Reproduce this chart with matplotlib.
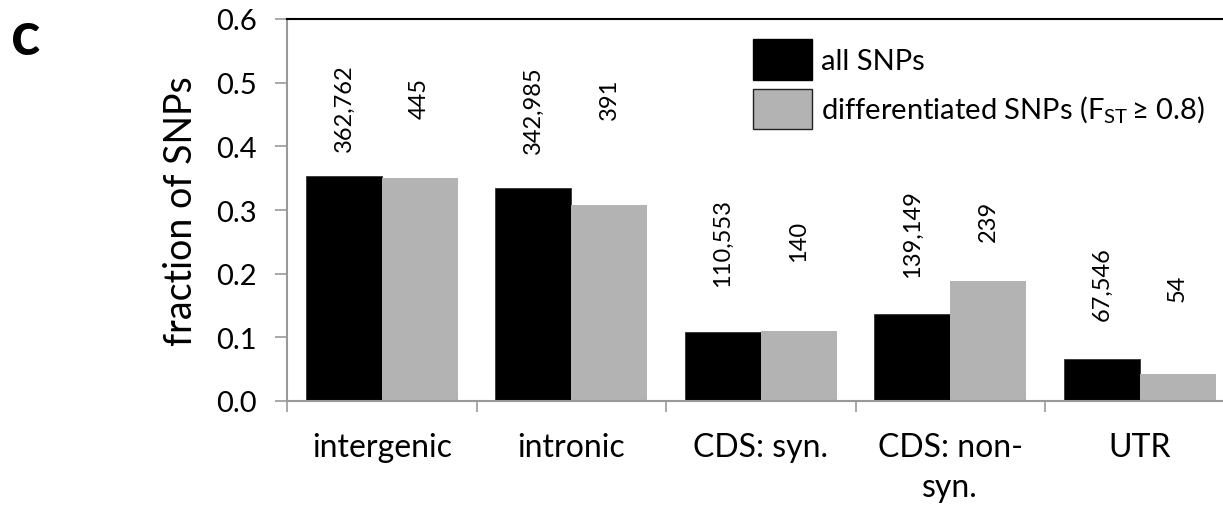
import matplotlib
matplotlib.use("Agg")
import matplotlib.pyplot as plt
from matplotlib.patches import Rectangle
import numpy as np

categories = ["intergenic", "intronic", "CDS: syn.", "CDS: non-\nsyn.", "UTR"]
all_snps = [0.354, 0.334, 0.108, 0.136, 0.066]
diff_snps = [0.350, 0.308, 0.110, 0.188, 0.042]
all_counts = ["362,762", "342,985", "110,553", "139,149", "67,546"]
diff_counts = ["445", "391", "140", "239", "54"]
yticks = [0.0, 0.1, 0.2, 0.3, 0.4, 0.5, 0.6]
series_names = ["all SNPs", "differentiated SNPs (F$_{\\mathregular{ST}}$\u2009≥ 0.8)"]

# label centre heights (layout)
all_label_y = [0.462, 0.458, 0.250, 0.264, 0.185]
diff_label_y = [0.476, 0.475, 0.252, 0.283, 0.178]

FONT = "Lato"
plt.rcParams["font.family"] = [FONT, "DejaVu Sans"]
plt.rcParams["mathtext.fontset"] = "custom"
plt.rcParams["mathtext.rm"] = FONT
plt.rcParams["mathtext.it"] = FONT

BLACK = "black"
GREY = "#b3b3b3"

W, H = 1223, 506
fig = plt.figure(figsize=(W / 100, H / 100), dpi=100)
ax = fig.add_axes([287 / W, (H - 402) / H, (1234.5 - 287) / W, (402 - 20) / H])

x = np.arange(len(categories))
w = 0.4
ax.bar(x - w / 2, all_snps, width=w, color=BLACK, edgecolor="#333333", linewidth=0.6)
ax.bar(x + w / 2, diff_snps, width=w, color=GREY, edgecolor="none")

for i in range(len(categories)):
    ax.text(x[i] - w / 2, all_label_y[i], all_counts[i], rotation=90,
            ha="center", va="center", fontsize=17)
    ax.text(x[i] + w / 2, diff_label_y[i], diff_counts[i], rotation=90,
            ha="center", va="center", fontsize=17)

ax.set_xlim(-0.5, len(categories) - 0.5)
ax.set_ylim(0, 0.6)
ax.set_yticks(yticks)
ax.set_yticklabels([f"{t:.1f}" for t in yticks], fontsize=21)

ax.set_xticks(np.arange(len(categories) + 1) - 0.5)
ax.set_xticklabels([])
ax.set_xticks(x, minor=True)
ax.set_xticklabels(categories, minor=True, fontsize=23, multialignment="center",
                   linespacing=1.45)
ax.tick_params(axis="x", which="minor", length=0, pad=22)
ax.tick_params(axis="x", which="major", length=8, width=1.2, color="#999999", direction="out")
ax.tick_params(axis="y", length=9, width=1.2, color="#999999", direction="out", pad=13)

ax.set_ylabel("fraction of SNPs", fontsize=27, labelpad=12)

for s in ["left", "bottom"]:
    ax.spines[s].set_color("#999999")
    ax.spines[s].set_linewidth(1.5)
ax.spines["top"].set_color("black")
ax.spines["top"].set_linewidth(1.5)
ax.spines["right"].set_visible(False)

# legend drawn manually in figure pixel coordinates
def fy(p):
    return 1 - p / H

fig.patches.append(Rectangle((753 / W, fy(81)), 59 / W, 41 / H, transform=fig.transFigure,
                             facecolor=BLACK, edgecolor="black", linewidth=1.0))
fig.patches.append(Rectangle((753 / W, fy(130)), 59 / W, 40 / H, transform=fig.transFigure,
                             facecolor=GREY, edgecolor="#222222", linewidth=1.0))
fig.text(821 / W, fy(62), series_names[0], fontsize=21, ha="left", va="center")
fig.text(821 / W, fy(110), series_names[1], fontsize=21, ha="left", va="center")

fig.text(11 / W, fy(55), "c", fontsize=44, fontweight="bold", ha="left", va="baseline")

fig.savefig("out.png", dpi=100)
